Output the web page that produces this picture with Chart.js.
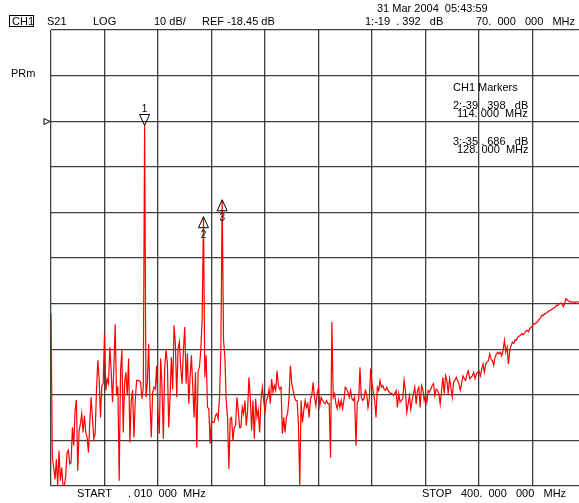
<!DOCTYPE html>
<html>
<head>
<meta charset="utf-8">
<script src="https://cdn.jsdelivr.net/npm/chart.js@4.4.1/dist/chart.umd.min.js"></script>
<style>
html, body { margin: 0; padding: 0; background: #fff; overflow: hidden; }
canvas { display: block; }
</style>
</head>
<body>
<canvas id="myChart" width="600" height="503"></canvas>
<script>
// sweep settings
var startMHz = 0.01;
var stopMHz = 400;
var refDb = -18.45;
var topDb = 1.55;     // ref line sits 2 div below the top, 10 dB/div
var bottomDb = -98.45;

// S21 trace, 401 points, start -> stop
var traceDb = [
  -60.7, -92.2, -94.4, -97.0, -92.6, -98.4, -90.7, -97.3, -94.4, -98.4,
  -98.4, -96.2, -91.1, -90.6, -93.6, -93.3, -85.6, -89.6, -81.9, -79.6,
  -95.1, -86.3, -84.8, -82.6, -86.7, -83.0, -86.7, -87.8, -91.1, -84.5,
  -79.0, -83.7, -88.1, -87.0, -77.5, -70.9, -75.0, -83.4, -76.4, -76.0,
  -65.0, -77.5, -75.0, -76.0, -68.0, -73.2, -80.1, -72.4, -63.0, -78.6,
  -76.6, -97.3, -73.2, -68.7, -86.7, -76.0, -73.5, -78.6, -70.5, -88.9,
  -79.7, -77.4, -87.8, -79.7, -75.3, -75.3, -75.4, -75.7, -79.3, -76.8,
  -19.392, -79.0, -76.0, -67.3, -79.7, -87.8, -77.9, -76.8, -77.2, -72.1,
  -82.6, -87.0, -70.5, -76.8, -88.1, -72.4, -68.7, -71.3, -85.6, -79.0,
  -70.2, -77.2, -63.2, -67.3, -79.0, -68.3, -66.9, -72.4, -76.0, -68.7,
  -63.6, -76.0, -69.4, -80.4, -74.6, -69.8, -76.8, -83.4, -73.5, -90.0,
  -73.2, -72.4, -68.7, -62.0, -39.398, -74.6, -69.8, -81.2, -81.5, -89.2,
  -84.1, -84.5, -84.5, -83.0, -82.6, -83.7, -79.0, -68.7, -35.686, -66.5,
  -70.2, -79.7, -83.4, -94.7, -83.7, -83.4, -88.5, -85.6, -85.2, -79.0,
  -81.9, -85.6, -85.6, -81.2, -82.6, -79.7, -85.2, -81.9, -74.6, -79.0,
  -86.3, -79.7, -88.1, -79.3, -83.4, -81.9, -86.7, -79.7, -76.8, -79.7,
  -82.3, -79.7, -79.0, -77.2, -80.4, -75.0, -77.9, -76.4, -77.5, -73.2,
  -76.4, -77.2, -76.8, -87.0, -83.4, -86.7, -83.4, -82.3, -79.0, -72.1,
  -76.0, -77.5, -79.0, -79.7, -79.7, -84.8, -98.4, -79.7, -84.5, -81.9,
  -79.7, -81.2, -80.4, -83.4, -79.3, -78.6, -75.7, -79.0, -80.8, -78.2,
  -76.8, -80.8, -79.0, -79.7, -80.1, -80.4, -79.7, -80.4, -80.4, -92.2,
  -62.5, -79.0, -78.2, -80.4, -81.5, -79.7, -81.2, -79.7, -81.5, -79.7,
  -76.8, -77.2, -77.9, -79.0, -77.5, -79.3, -79.7, -79.0, -89.6, -80.1,
  -79.7, -72.4, -79.0, -79.7, -79.3, -77.5, -78.2, -81.2, -79.3, -72.7,
  -76.0, -77.9, -79.7, -83.4, -76.8, -77.5, -75.3, -76.8, -76.4, -77.2,
  -77.5, -76.8, -77.5, -77.9, -78.2, -78.2, -78.6, -78.2, -77.5, -81.2,
  -78.2, -80.1, -79.7, -79.3, -75.3, -77.5, -82.3, -80.5, -78.6, -81.6,
  -79.7, -78.2, -76.8, -80.5, -77.5, -76.8, -81.2, -76.4, -77.2, -79.7,
  -78.6, -80.1, -77.5, -77.9, -77.2, -76.4, -76.0, -78.6, -77.2, -77.5,
  -78.2, -80.5, -77.5, -74.6, -78.2, -74.3, -75.3, -78.2, -74.9, -76.8,
  -79.0, -75.7, -75.3, -74.6, -75.3, -76.0, -77.5, -76.0, -74.3, -74.9,
  -75.3, -73.9, -73.2, -74.9, -74.6, -74.3, -73.5, -74.9, -73.9, -73.5,
  -73.2, -74.3, -72.8, -71.7, -73.5, -71.7, -71.3, -71.0, -69.5, -70.6,
  -71.0, -72.0, -70.2, -69.5, -69.1, -69.5, -69.1, -69.9, -68.7, -66.5,
  -69.1, -68.0, -71.7, -68.7, -67.6, -66.9, -67.2, -66.4, -66.5, -65.8,
  -65.6, -65.4, -65.0, -65.3, -64.9, -64.5, -64.3, -64.6, -63.9, -63.6,
  -63.3, -62.8, -62.9, -62.6, -62.4, -61.9, -61.6, -61.0, -61.1, -60.7,
  -60.6, -60.4, -60.1, -60.0, -59.8, -59.6, -59.4, -59.2, -58.8, -58.9,
  -58.5, -58.3, -58.5, -59.1, -58.5, -57.4, -57.6, -57.9, -58.1, -58.0,
  -58.2, -58.1, -58.2, -58.0, -58.1, -58.2, -58.1, -58.3, -58.2, -58.1,
  -58.2
];

var markerNum = ['1', '2', '3'];
var markerMHz = [70, 114, 128];
var markerDb = [-19.392, -39.398, -35.686];

// x of every sweep point from start/stop
var points = [];
for (var i = 0; i < traceDb.length; i++) {
  points.push({ x: startMHz + i * (stopMHz - startMHz) / (traceDb.length - 1), y: traceDb[i] });
}

function tenDivs(lo, hi) {
  return function(scale) {
    var t = [];
    for (var k = 0; k <= 10; k++) t.push({ value: lo + k * (hi - lo) / 10 });
    scale.ticks = t;
  };
}

var overlay = {
  id: 'overlay',
  afterDatasetsDraw: function(chart) {
    var c = chart.ctx, xs = chart.scales.x, ys = chart.scales.y;
    c.save();
    c.fillStyle = '#000';
    c.strokeStyle = '#000';
    c.lineWidth = 1;
    c.font = '11px "Liberation Sans", Arial, sans-serif';
    function txt(s, x, y, align) { c.textAlign = align || 'left'; c.fillText(s, x, y); }

    // header
    txt('31 Mar 2004  05:43:59', 377, 12);
    txt('CH1', 12, 25);
    c.strokeRect(9.5, 15.5, 24, 11);
    txt('S21', 47, 25);
    txt('LOG', 93, 25);
    txt('10 dB/', 154, 25);
    txt('REF -18.45 dB', 202, 25);
    txt('1:-19  . 392   dB', 365, 25);
    txt('70.  000   000   MHz', 476, 25);
    txt('PRm', 11, 77);

    // marker table
    txt('CH1 Markers', 453, 91);
    txt('2:-39 . 398   dB', 453, 108.5);
    txt('114. 000  MHz', 457, 116.5);
    txt('3:-35 . 686   dB', 453, 144.5);
    txt('128. 000  MHz', 457, 152.5);

    // footer
    txt('START', 77, 497);
    txt('. 010  000  MHz', 128, 497);
    txt('STOP   400.  000   000   MHz', 422, 497);

    // reference level pointer
    var ry = Math.round(ys.getPixelForValue(refDb)) + 0.5;
    var lx = chart.chartArea.left;
    c.beginPath();
    c.moveTo(lx - 1, ry); c.lineTo(lx - 7, ry - 3); c.lineTo(lx - 7, ry + 3); c.closePath();
    c.stroke();

    // markers
    c.font = '10px "Liberation Sans", Arial, sans-serif';
    for (var k = 0; k < markerMHz.length; k++) {
      var px = xs.getPixelForValue(markerMHz[k]);
      var py = ys.getPixelForValue(markerDb[k]);
      c.beginPath();
      if (k === 0) {
        c.moveTo(px, py); c.lineTo(px - 5, py - 11); c.lineTo(px + 5, py - 11); c.closePath();
        c.stroke();
        txt(markerNum[k], px, py - 13, 'center');
      } else {
        c.moveTo(px, py); c.lineTo(px - 5, py + 11); c.lineTo(px + 5, py + 11); c.closePath();
        c.stroke();
        txt(markerNum[k], px, py + 21, 'center');
      }
    }
    c.restore();
  }
};

var ctx = document.getElementById('myChart');
var myChart = new Chart(ctx, {
  type: 'line',
  data: {
    datasets: [{
      data: points,
      borderColor: '#ff0000',
      borderWidth: 1.2,
      pointRadius: 0,
      tension: 0,
      fill: false
    }]
  },
  options: {
    responsive: false,
    animation: false,
    events: [],
    layout: { padding: { left: 51, top: 30, right: 14, bottom: 17 } },
    plugins: { legend: { display: false }, tooltip: { enabled: false } },
    scales: {
      x: {
        type: 'linear', min: startMHz, max: stopMHz,
        afterBuildTicks: tenDivs(startMHz, stopMHz),
        ticks: { display: false },
        grid: { color: 'rgba(0,0,0,0.75)', lineWidth: 1.3, drawTicks: false },
        border: { display: false }
      },
      y: {
        type: 'linear', min: bottomDb, max: topDb,
        afterBuildTicks: tenDivs(bottomDb, topDb),
        ticks: { display: false },
        grid: { color: 'rgba(0,0,0,0.75)', lineWidth: 1.3, drawTicks: false },
        border: { display: false }
      }
    }
  },
  plugins: [overlay]
});
</script>
</body>
</html>
